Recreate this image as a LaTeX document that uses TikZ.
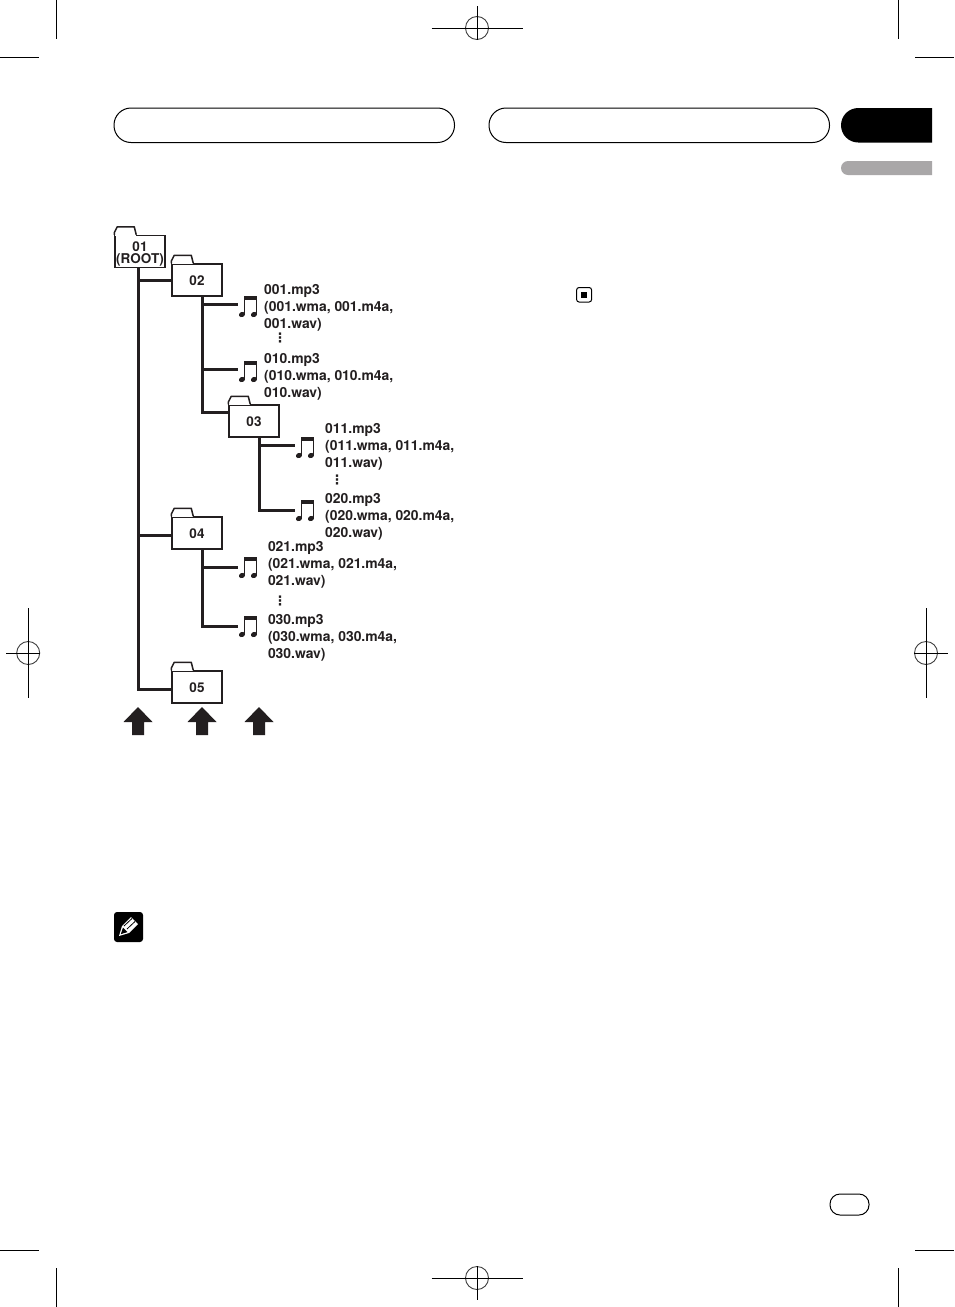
\documentclass[tikz,border=0pt]{standalone}
\usepackage{fontspec}
\setmainfont{TeX Gyre Heros}
\newfontfamily\symfont{DejaVu Sans}
\definecolor{ink}{HTML}{231F20}
\definecolor{tabgray}{HTML}{A9A7A8}
\tikzset{
  folder/.style={draw=ink,fill=white,line width=1.5pt,minimum width=50pt,minimum height=32pt,inner sep=0pt,align=center,font=\fontsize{13.5}{12}\selectfont\bfseries,text=ink},
  tabline/.style={draw=ink,line width=1.5pt,line join=round},
  taberase/.style={draw=white,line width=2pt},
  trunk/.style={draw=ink,line width=3pt,line join=miter},
  branch/.style={draw=ink,line width=3pt},
  notebox/.style={minimum width=20pt,minimum height=16pt,inner sep=0pt},
  filetext/.style={anchor=north west,align=left,inner sep=0pt,font=\fontsize{13.9}{17}\selectfont\bfseries,text=ink},
  dotstext/.style={inner sep=0pt,font=\fontsize{13}{13}\symfont\bfseries,text=ink},
  cropline/.style={draw=black,line width=1pt},
  regcircle/.style={draw=black!75,line width=0.9pt},
  headerbar/.style={draw=black,line width=1pt,rounded corners=17pt},
}
\newcommand\foldertab[1]{%
  \draw[taberase] ([xshift=0.8pt]#1.north west) -- ++(20.5,0);
  \draw[tabline] (#1.north west) -- ++(0,-2) -- ++(3,-6) -- ++(17,0) -- ++(2,8);}
\newcommand\musicnote[3]{%
  \node[notebox] (#1) at (#2) {};
  \begin{scope}[shift={(#1.center)},yshift=#3pt]
    \fill[ink] (-4.5,-8.5) rectangle (8.5,-4);
    \draw[ink,line width=1.5pt] (-4.2,-8) -- (-4.2,9);
    \draw[ink,line width=1.5pt] (8,-8) -- (8,9);
    \fill[ink,rotate around={25:(-6.5,10.5)}] (-6.5,10.5) ellipse (3.2 and 2.5);
    \fill[ink,rotate around={25:(5.5,10.5)}] (5.5,10.5) ellipse (3.2 and 2.5);
  \end{scope}}
\newcommand\uparrowshape[1]{\fill[ink,shift={(#1)}] (0,0) -- (14.5,15) -- (6,15) -- (6,28) -- (-6,28) -- (-6,15) -- (-14.5,15) -- cycle;}
\newcommand\regmark[5]{%
  \coordinate (rc) at (#1);
  \draw[regcircle] (rc) circle (11.5);
  \draw[cropline] ([xshift=-#2pt]rc) -- ([xshift=#3pt]rc);
  \draw[cropline] ([yshift=#4pt]rc) -- ([yshift=-#5pt]rc);}
\begin{document}
\begin{tikzpicture}[x=1pt,y=-1pt]
\useasboundingbox (0,0) rectangle (954,1307);
\fill[white] (0,0) rectangle (954,1307);
% crop marks
\foreach \ya/\yb/\xx in {0/39/56.6,0/39/898,1268/1307/56.6,1268/1307/898}{\draw[cropline] (\xx,\ya) -- (\xx,\yb);}
\foreach \xa/\xb/\yy in {0/39/57,915/954/57,0/39/1250,915/954/1250}{\draw[cropline] (\xa,\yy) -- (\xb,\yy);}
\regmark{477,28}{45.5}{45.5}{22}{12}
\regmark{477,1278}{45.5}{45.5}{12}{22}
\regmark{28.2,653}{22}{12}{45}{45}
\regmark{926,653}{12}{22}{45}{45}
% header
\draw[headerbar] (114,108) rectangle (454.5,142.5);
\draw[headerbar] (489,108) rectangle (829.5,142.5);
\fill[black] (932,108) {[rounded corners=17.25pt] -- (841,108) -- (841,142.5)} -- (932,142.5) -- cycle;
\fill[tabgray] (932,161) {[rounded corners=7pt] -- (841,161) -- (841,175)} -- (932,175) -- cycle;
\draw[draw=black,line width=1pt,rounded corners=10pt] (830,1194) rectangle (869,1215);
% stop icon
\draw[draw=black,line width=1pt,rounded corners=2.5pt] (576.6,287.5) rectangle (591.6,302);
\fill[black] (581,292) rectangle (587,298);
% pencil icon
\fill[black,rounded corners=3pt] (114,912) rectangle (143,942);
\fill[white] (119,936) -- (122,926) -- (131,917) -- (138,924) -- (129,933) -- cycle;
\fill[black] (120.8,934.2) -- (123,927.5) -- (127.5,932) -- cycle;
\draw[black,line width=0.8pt] (124,926) -- (132,918.5) (127,929) -- (135,921.5);
% folders
\node[folder] (f01) at (140,251.5) {\rule{0pt}{14pt}01\\(ROOT)};
\node[folder] (f02) at (197,280) {\rule{0pt}{12pt}02};
\node[folder] (f03) at (254,421) {\rule{0pt}{12pt}03};
\node[folder] (f04) at (197,533) {\rule{0pt}{12pt}04};
\node[folder] (f05) at (197,687) {\rule{0pt}{12pt}05};
\foreach \f in {f01,f02,f03,f04,f05}{\foldertab{\f}}
% note icons
\musicnote{n1}{248.5,304}{0}
\musicnote{n2}{248.5,369}{0}
\musicnote{n3}{305.5,445}{0}
\musicnote{n4}{305.5,510}{2}
\musicnote{n5}{248.5,567}{2}
\musicnote{n6}{248.5,626}{2}
% connectors
\coordinate (t1) at ([xshift=-2pt]f01.south);
\coordinate (t2) at ([xshift=5pt]f02.south);
\coordinate (t3) at ([xshift=5pt]f03.south);
\coordinate (t4) at ([xshift=5pt]f04.south);
\coordinate (e4) at ([yshift=-2pt]f04.west);
\draw[trunk] (t1) |- ([yshift=-2pt]f05.west);
\draw[branch] (t1 |- f02.west) -- (f02.west);
\draw[branch] (t1 |- e4) -- (e4);
\draw[trunk] (t2) |- ([yshift=9pt]f03.west);
\draw[branch] (t2 |- n1.west) -- (n1.west);
\draw[branch] (t2 |- n2.west) -- (n2.west);
\draw[trunk] (t3) |- (n4.west);
\draw[branch] (t3 |- n3.west) -- (n3.west);
\draw[trunk] (t4) |- (n6.west);
\draw[branch] (t4 |- n5.west) -- (n5.west);
% arrows
\uparrowshape{138,707}
\uparrowshape{202,707}
\uparrowshape{259,707}
% file labels
\node[filetext] (a1) at (264,284) {001.mp3\\(001.wma, 001.m4a,\\001.wav)};
\node[dotstext] (d1) at (280,338) {⋮};
\node[filetext] (a2) at (264,353) {010.mp3\\(010.wma, 010.m4a,\\010.wav)};
\node[filetext] (a3) at (325,423) {011.mp3\\(011.wma, 011.m4a,\\011.wav)};
\node[dotstext] (d2) at (337,480) {⋮};
\node[filetext] (a4) at (325,493) {020.mp3\\(020.wma, 020.m4a,\\020.wav)};
\node[filetext] (a5) at (267.8,541) {021.mp3\\(021.wma, 021.m4a,\\021.wav)};
\node[dotstext] (d3) at (280,601) {⋮};
\node[filetext] (a6) at (267.8,614) {030.mp3\\(030.wma, 030.m4a,\\030.wav)};
\end{tikzpicture}
\end{document}
